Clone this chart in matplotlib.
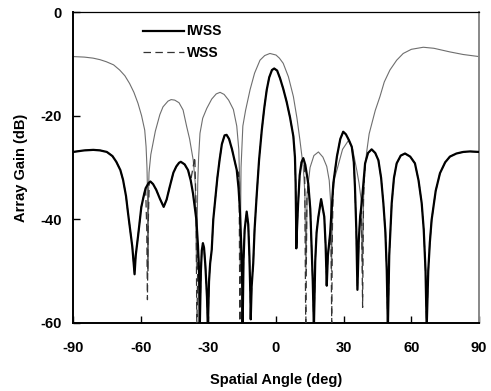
import matplotlib
matplotlib.use("Agg")
import matplotlib.pyplot as plt

plt.rcParams['font.family'] = ['Liberation Sans', 'DejaVu Sans']
plt.rcParams['font.weight'] = 'bold'
plt.rcParams['axes.unicode_minus'] = False

# ---- data ----
iwss_x = [-90, -85, -81, -78, -75, -72.5, -70.8, -69, -67.8, -66.5, -65.6, -64.5, -63.7, -63.0, -62.7,
          -62.2, -61.2, -59.7, -58.5, -57.8, -56.5, -55.7, -54.5, -53.1, -51.5, -49.8, -48.5, -47.1,
          -45.5, -44.2, -43.0, -42.2, -40.5, -39.0, -37.8, -36.8, -35.3, -34.6, -34.1, -33.8, -33.3,
          -32.9, -32.4, -31.9, -31.3, -30.6, -30.2, -29.7, -29.2, -28.5, -27.8, -27.0, -26.0, -25.0,
          -24.0, -22.8, -21.9, -20.8, -19.5, -18.3, -17.4, -16.6, -16.0, -15.4, -15.0, -14.8, -14.4,
          -13.9, -13.0, -12.3, -11.8, -11.4, -11.2, -10.8, -10.1, -9.5, -8.6, -7.5, -6.3, -5.2, -4.1,
          -3.0, -1.8, -0.8, 0.5, 1.8, 3.2, 4.7, 6.2, 7.7, 8.4, 8.7, 8.9, 9.0, 9.3, 9.8, 10.5, 11.3,
          12.1, 13.0, 14.3, 15.2, 15.8, 16.3, 16.8, 17.4, 18.0, 18.8, 20.0, 21.4, 22.0, 22.5, 23.0,
          24.0, 25.4, 27.0, 28.5, 29.8, 31.0, 32.3, 33.6, 34.5, 35.0, 35.6, 36.1, 36.7, 37.3, 38.0,
          39.5, 40.8, 42.4, 44.0, 45.4, 46.6, 47.6, 48.5, 49.1, 49.6, 50.2, 51.3, 52.3, 53.5, 55.3,
          57.2, 59.5, 61.6, 63.2, 64.6, 65.5, 66.3, 66.8, 67.5, 68.2, 69.0, 70.8, 72.7, 75.0, 77.1,
          80.0, 83.0, 86.0, 90]
iwss_y = [-27.0, -26.7, -26.6, -26.7, -27.0, -27.8, -28.9, -30.5, -32.4, -35.5, -38.8, -42.5, -45.3, -49.0, -50.6,
          -47.0, -43.4, -37.6, -35.2, -34.0, -33.0, -32.7, -33.2, -34.3, -36.0, -37.6, -36.2, -33.7,
          -31.0, -29.8, -29.1, -28.9, -29.4, -30.5, -32.5, -35.0, -40.1, -45.0, -50.0, -61.0, -50.0,
          -46.0, -44.6, -45.5, -49.0, -55.0, -61.0, -52.0, -48.5, -45.9, -40.0, -36.5, -32.0, -28.5,
          -25.5, -23.8, -23.7, -24.5, -26.5, -28.8, -30.5, -34.0, -38.2, -45.0, -52.0, -61.0, -48.0,
          -42.0, -38.5, -41.0, -47.0, -54.0, -59.3, -53.0, -48.5, -42.0, -35.6, -28.5, -22.8, -18.5, -15.0,
          -12.6, -11.2, -10.9, -11.3, -12.8, -14.8, -17.3, -20.3, -24.0, -28.0, -33.0, -40.0, -45.6, -42.0, -37.0, -31.5, -29.0,
          -28.2, -29.5, -33.1, -38.0, -45.9, -52.0, -61.0, -48.0, -42.5, -39.5, -36.1, -39.5, -45.0, -52.8, -47.0,
          -42.7, -33.1, -27.9, -24.5, -23.1, -23.6, -24.7, -26.0, -29.0, -33.7, -42.0, -53.6, -44.0, -39.5, -36.9,
          -29.2, -27.2, -26.5, -27.2, -28.6, -32.0, -36.9, -42.5, -49.8, -61.0, -47.0, -36.9, -32.0, -29.2, -27.7,
          -27.3, -27.9, -29.2, -32.5, -36.9, -42.0, -50.0, -61.0, -50.0, -44.5, -40.1, -34.5, -31.1, -29.0, -27.9,
          -27.3, -27.0, -26.9, -27.0]

wss_x = [-90, -85, -81, -78, -75, -72.5, -70.8, -69, -67.8, -66.5, -65.6, -64.5, -63.7, -63.0, -62.7,
         -62.2, -61.2, -59.7, -58.5, -57.8, -57.3, -57.0, -56.7, -56.2, -55.7, -54.5, -53.1, -51.5,
         -49.8, -48.5, -47.1, -45.5, -44.2, -43.0, -42.2, -40.5, -39.0, -37.8, -36.8, -36.0, -35.4,
         -35.1, -34.6, -34.1, -33.8, -33.3, -32.9, -32.4, -31.9, -31.3, -30.6, -30.2, -29.7, -29.2,
         -28.5, -27.8, -27.0, -26.0, -25.0, -24.0, -22.8, -21.9, -20.8, -19.5, -18.3, -17.4, -16.6,
         -16.3, -16.0, -15.6, -15.0, -14.8, -14.4, -13.9, -13.0, -12.3, -11.8, -11.4, -11.2, -10.8,
         -10.1, -9.5, -8.6, -7.5, -6.3, -5.2, -4.1, -3.0, -1.8, -0.8, 0.5, 1.8, 3.2, 4.7, 6.2, 7.7,
         8.4, 8.7, 8.9, 9.0, 9.3, 9.8, 10.5, 11.3, 12.1, 12.7, 13.2, 13.7, 14.3, 15.2, 15.8, 16.3,
         16.8, 17.4, 18.0, 18.8, 20.0, 21.4, 22.0, 22.5, 23.0, 24.0, 24.4, 24.7, 25.0, 25.4, 27.0,
         28.5, 29.8, 31.0, 32.3, 33.6, 34.5, 35.0, 35.6, 36.1, 36.7, 37.3, 37.9, 38.4, 38.8, 39.5,
         40.8, 42.4, 44.0, 45.4, 46.6, 47.6, 48.5, 49.1, 49.6, 50.2, 51.3, 52.3, 53.5, 55.3, 57.2,
         59.5, 61.6, 63.2, 64.6, 65.5, 66.3, 66.8, 67.5, 68.2, 69.0, 70.8, 72.7, 75.0, 77.1, 80.0,
         83.0, 86.0, 90]
wss_y = [-27.0, -26.7, -26.6, -26.7, -27.0, -27.8, -28.9, -30.5, -32.4, -35.5, -38.8, -42.5, -45.3, -49.0, -50.6,
         -47.0, -43.4, -37.6, -35.2, -34.0, -42.0, -55.5, -42.0, -33.0, -32.7, -33.2, -34.3, -36.0,
         -37.6, -36.2, -33.7, -31.0, -29.8, -29.1, -28.9, -29.4, -30.5, -32.5, -30.0, -28.0, -38.0,
         -62.0, -45.0, -50.0, -61.0, -50.0, -46.0, -44.6, -45.5, -49.0, -55.0, -61.0, -52.0, -48.5,
         -45.9, -40.0, -36.5, -32.0, -28.5, -25.5, -23.8, -23.7, -24.5, -26.5, -28.8, -30.5, -31.0,
         -36.0, -62.0, -44.0, -52.0, -61.0, -48.0, -42.0, -38.5, -41.0, -47.0, -54.0, -59.3, -53.0,
         -48.5, -42.0, -35.6, -28.5, -22.8, -18.5, -15.0, -12.6, -11.2, -10.9, -11.3, -12.8, -14.8, -17.3, -20.3, -24.0,
         -28.0, -33.0, -40.0, -45.6, -42.0, -37.0, -31.5, -29.0, -28.2, -30.0, -62.0, -36.0, -33.1, -38.0, -45.9, -52.0,
         -61.0, -48.0, -42.5, -39.5, -36.1, -39.5, -45.0, -52.8, -47.0, -42.7, -45.0, -60.0, -42.0, -33.1, -27.9,
         -24.5, -23.1, -23.6, -24.7, -26.0, -29.0, -33.7, -42.0, -53.6, -44.0, -39.5, -37.5, -57.0, -36.0, -29.2,
         -27.2, -26.5, -27.2, -28.6, -32.0, -36.9, -42.5, -49.8, -61.0, -47.0, -36.9, -32.0, -29.2, -27.7, -27.3,
         -27.9, -29.2, -32.5, -36.9, -42.0, -50.0, -61.0, -50.0, -44.5, -40.1, -34.5, -31.1, -29.0, -27.9, -27.3,
         -27.0, -26.9, -27.0]

ref_x = [-90, -85, -81.1, -78, -75.2, -72, -69.3, -67, -64.9, -63, -61.2, -59.6, -58.2, -57.6, -57.2, -56.9,
         -56.8, -56.6, -56.3, -55.5, -53.5, -51.5, -50.1, -47.9, -46.5, -44.9, -43, -41.2, -39.6, -38.3,
         -36.7, -35.8, -35.2, -34.7, -34.3, -33.7, -32.5, -30.7, -28.5, -26.5, -24.8, -23, -21, -18.9,
         -17.4, -16.5, -16.1, -15.9, -15.5, -14.7, -13.5, -11.5, -9.5, -7.1, -5, -2.7, 0, 1.5, 3.2, 5.5,
         7.7, 9.3, 10.6, 12.1, 12.8, 13.3, 13.8, 15.1, 16.8, 18.8, 20.8, 22.5, 23.6, 24.2, 24.6, 25.1,
         26, 27.0, 29.5, 32.1, 34, 35.8, 36.8, 37.7, 38.3, 38.9, 39.5, 40.2, 41.3, 42.5, 44, 46.1, 48,
         50.5, 53.5, 56.4, 60, 65.3, 70, 77.1, 83, 90]
ref_y = [-8.6, -8.7, -8.9, -9.2, -9.6, -10.2, -11.2, -12.3, -13.8, -15.5, -17.6, -20.0, -22.8, -26.0, -30.0, -36.0,
         -50.0, -36.0, -31.0, -27.5, -23.0, -19.8, -18.3, -17.2, -16.9, -17.0, -17.5, -18.9, -22.1, -24.5,
         -28.6, -33.0, -50.0, -33.0, -28.0, -23.4, -20.5, -18.6, -16.8, -15.8, -15.5, -15.9, -17.0, -18.8,
         -22.0, -26.5, -33.0, -50.0, -30.0, -22.0, -19.0, -15.0, -11.8, -9.3, -8.4, -8.0, -8.3, -8.9, -9.9, -12.5,
         -16.3, -20.5, -24.7, -30.0, -35.0, -50.0, -35.0, -30.0, -27.7, -27.0, -28.0, -29.8, -32.5, -36.5, -50.0, -36.0,
         -32.0, -30.5, -26.5, -24.8, -26.5, -30.5, -33.0, -36.0, -50.0, -34.0, -30.0, -27.0, -23.5, -21.5, -19.0, -16.3, -13.5,
         -11.2, -9.3, -8.0, -7.2, -6.8, -7.0, -7.7, -8.2, -8.6]

x_ticks = [-90, -60, -30, 0, 30, 60, 90]
y_ticks = [-60, -40, -20, 0]

fig = plt.figure(figsize=(4.91, 3.91), dpi=100)
ax = fig.add_axes([73/491, 1-323/391, 406/491, 311/391])

ax.plot(ref_x, ref_y, color='#6e6e6e', lw=0.8, zorder=2)
ax.plot(wss_x, wss_y, color='#333333', lw=0.9, ls=(0, (6, 3.5)), label='WSS', zorder=3)
ax.plot(iwss_x, iwss_y, color='black', lw=1.6, label='IWSS', zorder=4)

ax.set_xlim(-90, 90)
ax.set_ylim(-60, 0)
ax.set_xticks(x_ticks)
ax.set_yticks(y_ticks)
ax.tick_params(direction='in', length=5, width=1, labelsize=10.5, top=False, right=False)
ax.tick_params(axis='x', pad=13)
ax.tick_params(axis='y', pad=8)
for lab in ax.get_xticklabels() + ax.get_yticklabels():
    lab.set_fontweight('bold')

ax.spines['left'].set_linewidth(1.4)
ax.spines['bottom'].set_linewidth(1.4)
ax.spines['top'].set_linewidth(0.9)
ax.spines['right'].set_linewidth(1.4)
ax.spines['right'].set_color('#888888')

ax.set_xlabel('Spatial Angle (deg)', fontsize=10.5, fontweight='bold', labelpad=13)
ax.set_ylabel('Array Gain (dB)', fontsize=10.5, fontweight='bold', labelpad=9)

handles, labels = ax.get_legend_handles_labels()
order = [1, 0]
leg = ax.legend([handles[i] for i in order], [labels[i] for i in order],
                loc='upper left', bbox_to_anchor=(0.172, 0.96), frameon=False,
                borderpad=0, borderaxespad=0, handlelength=3.0, handletextpad=0.15,
                labelspacing=0.55, prop={'size': 10, 'weight': 'bold'})

fig.savefig('out.png', dpi=100)
